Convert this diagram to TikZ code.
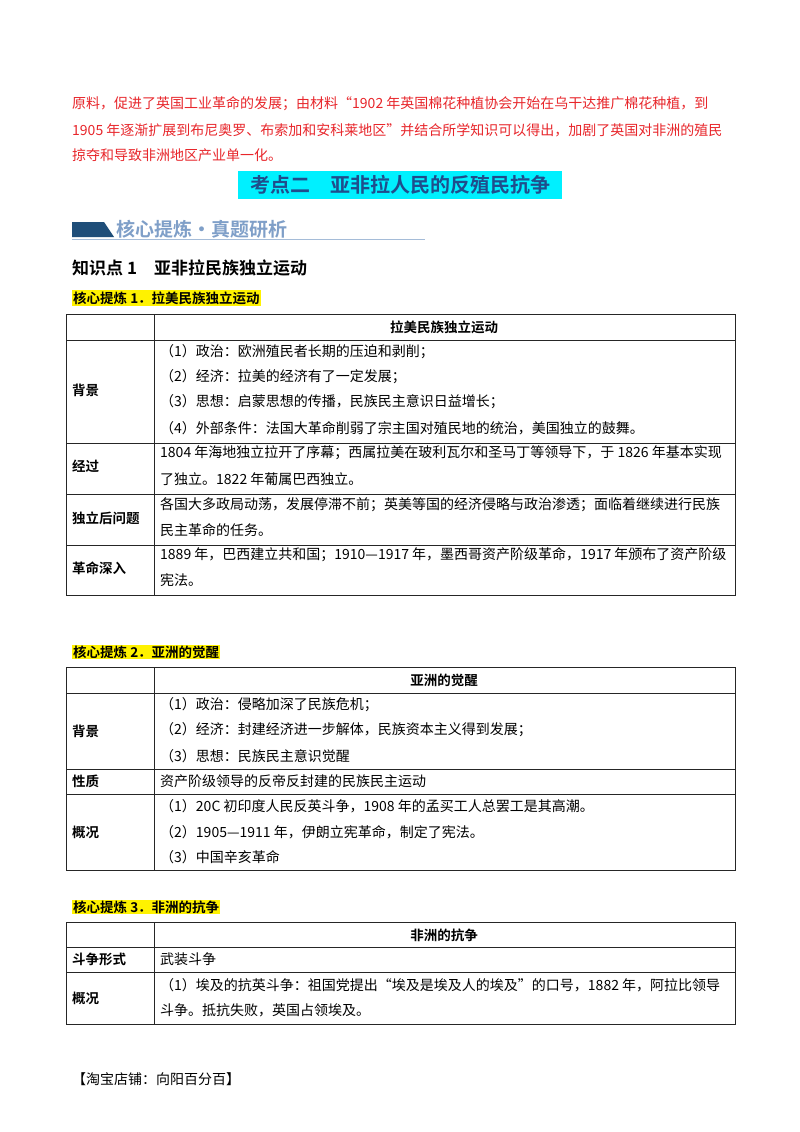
\documentclass[tikz,border=0pt]{standalone}
\usepackage{fontspec}
\setmainfont{Noto Sans CJK SC}
\newfontfamily\cjkb{Noto Sans CJK SC Bold}
\definecolor{redtxt}{HTML}{E8262B}
\definecolor{bannerbg}{HTML}{00F0FF}
\definecolor{bannertx}{HTML}{1F4E8C}
\definecolor{secblue}{HTML}{1F4E79}
\definecolor{seclight}{HTML}{7F9FC8}
\tikzset{
 txt/.style={anchor=west,inner sep=0,font=\fontsize{14}{16}\selectfont},
 red/.style={txt,text=redtxt},
 lbl/.style={anchor=west,inner sep=0,font=\cjkb\fontsize{13.5}{15}\selectfont},
 hdr/.style={anchor=center,inner sep=0,font=\cjkb\fontsize{13.5}{15}\selectfont},
 tline/.style={line width=0.8pt,draw=black!85}
}
\begin{document}
\begin{tikzpicture}[x=1pt,y=-1pt]
\useasboundingbox[fill=white] (0,0) rectangle (800,1132);
% red paragraph
\node[red] (r1) at (72,104) {原料，促进了英国工业革命的发展；由材料“1902 年英国棉花种植协会开始在乌干达推广棉花种植，到};
\node[red] (r2) at (72,130) {1905 年逐渐扩展到布尼奥罗、布索加和安科莱地区”并结合所学知识可以得出，加剧了英国对非洲的殖民};
\node[red] (r3) at (72,155) {掠夺和导致非洲地区产业单一化。};
% banner
\fill[bannerbg] (238,171) rectangle (562,199);
\node[anchor=center,inner sep=0,text=bannertx,font=\cjkb\fontsize{20}{22}\selectfont] (ban) at (400,185) {考点二\quad 亚非拉人民的反殖民抗争};
% section heading
\fill[secblue] (72,222) -- (104,222) -- (114,237) -- (72,237) -- cycle;
\node[anchor=west,inner sep=0,text=seclight,font=\cjkb\fontsize{19}{21}\selectfont] (sec) at (116,229) {核心提炼·真题研析};
\draw[seclight!70,line width=0.8pt] (72,239) -- (425,239);
\node[anchor=west,inner sep=0,font=\cjkb\fontsize{17}{19}\selectfont] (kp) at (72,268) {知识点 1\quad 亚非拉民族独立运动};
% heading 1
\node[lbl,fill=yellow,inner sep=1pt] (h1) at (72,298) {核心提炼 1．拉美民族独立运动};
% table 1
\draw[tline] (66,314) rectangle (735,595);
\draw[tline] (154,314) -- (154,595);
\foreach \y in {340,443,494,545} \draw[tline] (66,\y) -- (735,\y);
\node[hdr] (t1h) at (444,327) {拉美民族独立运动};
\node[lbl] (t1a) at (72,390) {背景};
\node[txt] at (160,352) {（1）政治：欧洲殖民者长期的压迫和剥削；};
\node[txt] at (160,377) {（2）经济：拉美的经济有了一定发展；};
\node[txt] at (160,402) {（3）思想：启蒙思想的传播，民族民主意识日益增长；};
\node[txt] at (160,428) {（4）外部条件：法国大革命削弱了宗主国对殖民地的统治，美国独立的鼓舞。};
\node[lbl] (t1b) at (72,466) {经过};
\node[txt] at (160,453) {1804 年海地独立拉开了序幕；西属拉美在玻利瓦尔和圣马丁等领导下，于 1826 年基本实现};
\node[txt] at (160,479) {了独立。1822 年葡属巴西独立。};
\node[lbl] (t1c) at (72,518) {独立后问题};
\node[txt] at (160,505) {各国大多政局动荡，发展停滞不前；英美等国的经济侵略与政治渗透；面临着继续进行民族};
\node[txt] at (160,530) {民主革命的任务。};
\node[lbl] (t1d) at (72,568) {革命深入};
\node[txt] at (160,555) {1889 年，巴西建立共和国；1910—1917 年，墨西哥资产阶级革命，1917 年颁布了资产阶级};
\node[txt] at (160,580) {宪法。};
% heading 2
\node[lbl,fill=yellow,inner sep=1pt] (h2) at (72,652) {核心提炼 2．亚洲的觉醒};
\draw[tline] (66,667) rectangle (735,870);
\draw[tline] (154,667) -- (154,870);
\foreach \y in {693,769,794} \draw[tline] (66,\y) -- (735,\y);
\node[hdr] (t2h) at (444,680) {亚洲的觉醒};
\node[lbl] (t2a) at (72,731) {背景};
\node[txt] at (160,705) {（1）政治：侵略加深了民族危机；};
\node[txt] at (160,730) {（2）经济：封建经济进一步解体，民族资本主义得到发展；};
\node[txt] at (160,756) {（3）思想：民族民主意识觉醒};
\node[lbl] (t2b) at (72,781) {性质};
\node[txt] at (160,781) {资产阶级领导的反帝反封建的民族民主运动};
\node[lbl] (t2c) at (72,832) {概况};
\node[txt] at (160,806) {（1）20C 初印度人民反英斗争，1908 年的孟买工人总罢工是其高潮。};
\node[txt] at (160,832) {（2）1905—1911 年，伊朗立宪革命，制定了宪法。};
\node[txt] at (160,857) {（3）中国辛亥革命};
% heading 3
\node[lbl,fill=yellow,inner sep=1pt] (h3) at (72,907) {核心提炼 3．非洲的抗争};
\draw[tline] (66,922) rectangle (735,1024);
\draw[tline] (154,922) -- (154,1024);
\foreach \y in {947,972} \draw[tline] (66,\y) -- (735,\y);
\node[hdr] (t3h) at (444,935) {非洲的抗争};
\node[lbl] (t3a) at (72,959) {斗争形式};
\node[txt] at (160,959) {武装斗争};
\node[lbl] (t3b) at (72,998) {概况};
\node[txt] at (160,985) {（1）埃及的抗英斗争：祖国党提出“埃及是埃及人的埃及”的口号，1882 年，阿拉比领导};
\node[txt] at (160,1010) {斗争。抵抗失败，英国占领埃及。};
% footer
\node[txt] (ft) at (72,1079) {【淘宝店铺：向阳百分百】};
\end{tikzpicture}
\end{document}
